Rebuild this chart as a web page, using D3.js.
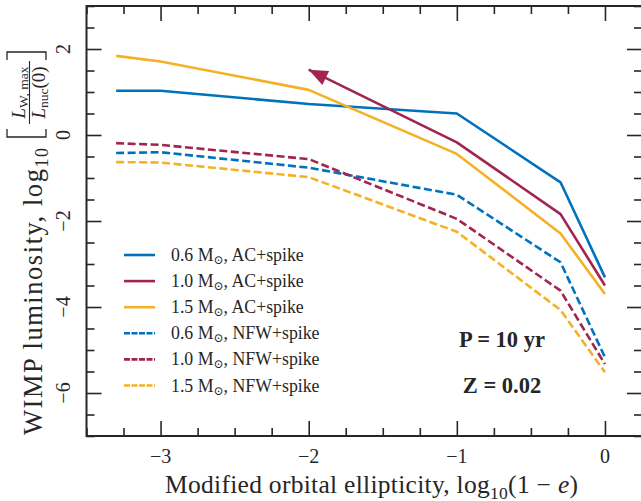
<!DOCTYPE html>
<html>
<head>
<meta charset="utf-8">
<script src="https://cdn.jsdelivr.net/npm/d3@7"></script>
<style>
  html, body { margin: 0; padding: 0; background: #fff; }
  svg { display: block; }
  text { font-family: "Liberation Serif", "DejaVu Serif", serif; fill: #262626; }
</style>
</head>
<body>
<svg id="chart" width="641" height="501"></svg>
<script>
// ---------------- data ----------------
const xVals   = [-3.3, -3, -2, -1, -0.3, 0];
const ac06    = [1.03, 1.03, 0.72, 0.50, -1.10, -3.31];
const ac10    = [null, null, 1.52, -0.17, -1.84, -3.50];
const ac15    = [1.84, 1.71, 1.05, -0.44, -2.29, -3.70];
const nfw06   = [-0.42, -0.40, -0.76, -1.39, -2.96, -5.17];
const nfw10   = [-0.19, -0.23, -0.56, -1.95, -3.62, -5.33];
const nfw15   = [-0.63, -0.64, -0.98, -2.25, -4.07, -5.52];
const seriesNames = ["0.6", "1.0", "1.5", "0.6", "1.0", "1.5"];
const seriesModels = ["AC+spike", "AC+spike", "AC+spike", "NFW+spike", "NFW+spike", "NFW+spike"];
const xTicks = [-3, -2, -1, 0];
const yTicks = [-6, -4, -2, 0, 2];
const annotations = ["P = 10 yr", "Z = 0.02"];

// ---------------- setup ----------------
const colors = ["#0072BD", "#A2254F", "#F5B125", "#0072BD", "#A2254F", "#F5B125"];
const seriesVals = [ac06, ac10, ac15, nfw06, nfw10, nfw15];
const dashed = [false, false, false, true, true, true];

const svg = d3.select("#chart");
const L = 86.5, R = 642, T = 6, B = 436;
const x = d3.scaleLinear().domain([-3.5, 0.25]).range([L, R]);
const y = d3.scaleLinear().domain([-7, 3]).range([B, T]);
const ink = "#262626";

// stretch a text element to a target advance width using letter-spacing
function fitWidth(sel, target) {
  const node = sel.node();
  const w = node.getComputedTextLength();
  const n = node.textContent.length;
  if (n > 1) sel.attr("letter-spacing", ((target - w) / (n - 1)).toFixed(3));
}

// lines
const line = d3.line()
  .defined(d => d[1] !== null)
  .x(d => x(d[0])).y(d => y(d[1]));

const plot = svg.append("g");
seriesVals.forEach((vals, i) => {
  const pts = xVals.map((xv, j) => [xv, vals[j]]);
  plot.append("path")
    .attr("d", line(pts))
    .attr("fill", "none")
    .attr("stroke", colors[i])
    .attr("stroke-width", 2.6)
    .attr("stroke-linejoin", "round")
    .attr("stroke-dasharray", dashed[i] ? "8,3.5" : null);
});

// arrow head on the 1.0 AC+spike line start
(function () {
  const pts = xVals.map((xv, j) => [xv, ac10[j]]).filter(d => d[1] !== null);
  const tip = [x(pts[0][0]), y(pts[0][1])];
  const nxt = [x(pts[1][0]), y(pts[1][1])];
  const dx = nxt[0] - tip[0], dy = nxt[1] - tip[1];
  const len = Math.hypot(dx, dy);
  const ux = dx / len, uy = dy / len;
  const hl = 19, hw = 7.7;
  const bx = tip[0] + ux * hl, by = tip[1] + uy * hl;
  const p1 = [bx - uy * hw, by + ux * hw];
  const p2 = [bx + uy * hw, by - ux * hw];
  plot.append("path")
    .attr("d", `M${tip[0]},${tip[1]}L${p1[0]},${p1[1]}L${p2[0]},${p2[1]}Z`)
    .attr("fill", colors[1]);
})();

// axes (ticks inward on all sides)
const xMinor = d3.range(-3.5, 0.26, 0.25).filter(v => !xTicks.some(t => Math.abs(t - v) < 1e-6));
const yMinor = d3.range(-7, 3.01, 0.5).filter(v => !yTicks.some(t => Math.abs(t - v) < 1e-6));

function styleAxis(g) {
  g.select(".domain").remove();
  g.selectAll("line").attr("stroke", ink).attr("stroke-width", 1.6);
}
const axes = [
  [d3.axisBottom(x), `translate(0,${B})`, xTicks, xMinor],
  [d3.axisTop(x), `translate(0,${T})`, xTicks, xMinor],
  [d3.axisLeft(y), `translate(${L},0)`, yTicks, yMinor],
  [d3.axisRight(y), `translate(${R},0)`, yTicks, yMinor]
];
axes.forEach(([ax, tr, maj, min]) => {
  svg.append("g").attr("transform", tr)
    .call(ax.tickValues(maj).tickSize(-15).tickFormat(""))
    .call(styleAxis);
  svg.append("g").attr("transform", tr)
    .call(ax.tickValues(min).tickSize(-8).tickFormat(""))
    .call(styleAxis);
});

// frame
svg.append("rect")
  .attr("x", L).attr("y", T).attr("width", R - L).attr("height", B - T)
  .attr("fill", "none").attr("stroke", ink).attr("stroke-width", 2);

const fmt = d3.format("d");
// x tick labels
svg.append("g").selectAll("text").data(xTicks).join("text")
  .attr("x", d => x(d)).attr("y", 463)
  .attr("text-anchor", "middle")
  .attr("font-size", 20)
  .text(d => fmt(d));
// y tick labels (rotated)
svg.append("g").selectAll("text").data(yTicks).join("text")
  .attr("transform", d => `translate(70,${y(d)}) rotate(-90)`)
  .attr("text-anchor", "middle")
  .attr("font-size", 20)
  .text(d => fmt(d));

// x label
const xl = svg.append("text")
  .attr("x", 165).attr("y", 493)
  .attr("text-anchor", "start")
  .attr("font-size", 25.5);
xl.append("tspan").text("Modified orbital ellipticity, log");
xl.append("tspan").attr("font-size", 17.5).attr("dy", 5.5).text("10");
xl.append("tspan").attr("dy", -5.5).text("(1 − ");
xl.append("tspan").attr("font-style", "italic").text("e");
xl.append("tspan").text(")");
fitWidth(xl, 413);

// y label (rotated group)
const yg = svg.append("g").attr("transform", "rotate(-90)");
const yl = yg.append("text")
  .attr("x", -435).attr("y", 42)
  .attr("text-anchor", "start")
  .attr("font-size", 26.5);
yl.append("tspan").text("WIMP luminosity, log");
yl.append("tspan").attr("font-size", 18).attr("dy", 5.5).text("10");
fitWidth(yl, 287);

// brackets
svg.append("path")
  .attr("d", "M7,129 L7,137 L46,137 L46,129")
  .attr("fill", "none").attr("stroke", ink).attr("stroke-width", 1.3);
svg.append("path")
  .attr("d", "M7,60 L7,52 L46,52 L46,60")
  .attr("fill", "none").attr("stroke", ink).attr("stroke-width", 1.3);
// fraction bar
svg.append("line")
  .attr("x1", 29.5).attr("x2", 29.5).attr("y1", 124).attr("y2", 61)
  .attr("stroke", ink).attr("stroke-width", 1.1);
const num = yg.append("text")
  .attr("x", -92.5).attr("y", 25)
  .attr("text-anchor", "middle").attr("font-size", 19);
num.append("tspan").attr("font-style", "italic").text("L");
num.append("tspan").attr("font-size", 13.5).attr("dy", 3).text("W, max");
const den = yg.append("text")
  .attr("x", -92.5).attr("y", 45)
  .attr("text-anchor", "middle").attr("font-size", 19);
den.append("tspan").attr("font-style", "italic").text("L");
den.append("tspan").attr("font-size", 13.5).attr("dy", 3).text("nuc");
den.append("tspan").attr("dy", -3).text("(0)");

// legend
const lg = svg.append("g");
const legY0 = 255, legDy = 26.1;
seriesNames.forEach((nm, i) => {
  const yy = legY0 + i * legDy;
  lg.append("line")
    .attr("x1", 124).attr("x2", 155).attr("y1", yy).attr("y2", yy)
    .attr("stroke", colors[i]).attr("stroke-width", 2.6)
    .attr("stroke-dasharray", dashed[i] ? "6,1.5" : null);
  const t = lg.append("text")
    .attr("x", 171).attr("y", yy + 6)
    .attr("font-size", 17.8);
  t.append("tspan").text(nm + " M");
  t.append("tspan").attr("font-size", 12).attr("dy", 3).text("⊙");
  t.append("tspan").attr("dy", -3).text(", " + seriesModels[i]);
});

// annotations
svg.append("text")
  .attr("x", 502).attr("y", 347)
  .attr("text-anchor", "middle")
  .attr("font-size", 22.5).attr("font-weight", "bold")
  .text(annotations[0]);
svg.append("text")
  .attr("x", 502).attr("y", 393)
  .attr("text-anchor", "middle")
  .attr("font-size", 22.5).attr("font-weight", "bold")
  .text(annotations[1]);
</script>
</body>
</html>
